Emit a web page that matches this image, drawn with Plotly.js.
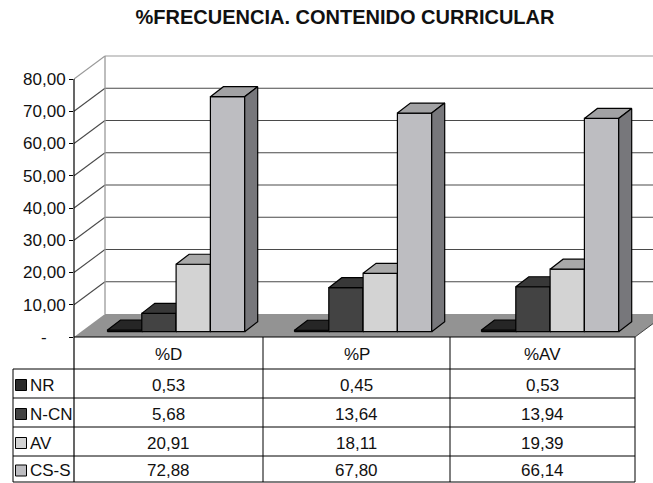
<!DOCTYPE html>
<html>
<head>
<meta charset="utf-8">
<script src="https://cdn.plot.ly/plotly-3.0.1.min.js"></script>
<style>
  html, body { margin: 0; padding: 0; background: #ffffff; }
  #chart { width: 653px; height: 483px; }
</style>
</head>
<body>
<div id="chart"></div>
<script>
// ---- data ----
const categories = ['%D', '%P', '%AV'];
const seriesNames = ['NR', 'N-CN', 'AV', 'CS-S'];
const valuesNR = [0.53, 0.45, 0.53];
const valuesNCN = [5.68, 13.64, 13.94];
const valuesAV = [20.91, 18.11, 19.39];
const valuesCSS = [72.88, 67.80, 66.14];
const yTickVals = [0, 10, 20, 30, 40, 50, 60, 70, 80];
const yTickText = ['-\u00a0\u00a0\u00a0\u00a0', '10,00', '20,00', '30,00', '40,00', '50,00', '60,00', '70,00', '80,00'];

const seriesValues = [valuesNR, valuesNCN, valuesAV, valuesCSS];

// ---- styling ----
const frontColors = ['#2b2b2b', '#434343', '#d3d3d3', '#bdbdc1'];
const topColors   = ['#262626', '#383838', '#a9a9a9', '#a2a2a4'];
const sideColors  = ['#1c1c1c', '#2e2e2e', '#8a8a8a', '#77777b'];
const FONT = 'Liberation Sans, Arial, sans-serif';

// ---- geometry (pixels) ----
const W = 653, H = 483;
const PLOT_L = 74, PLOT_T = 40, PLOT_B = 483;
const CAT_PX = 187;          // width of one category on the front plane
const UNIT_PX = 3.225;       // pixels per value unit
const ZERO_PY = 337;         // front-plane baseline

const dxu = px => px / CAT_PX;
const dyu = px => px / UNIT_PX;
const paperX = px => (px - PLOT_L) / (W - PLOT_L);
const paperY = py => (PLOT_B - py) / (PLOT_B - PLOT_T);

const xMax = (W - PLOT_L) / CAT_PX;
const yMin = (ZERO_PY - PLOT_B) / UNIT_PX;
const yMax = (ZERO_PY - PLOT_T) / UNIT_PX;

// depth of the box (back wall offset) and of the bars
const WALL_DX = dxu(31), WALL_DY = dyu(23);
const BAR_LEFT = dxu(33.5), BAR_W = dxu(34.3), BAR_BASE = dyu(5.3);
const BAR_DX = dxu(13), BAR_DY = dyu(10);
const nCat = categories.length;

// ---- bars: front, top and side faces, drawn series by series ----
const traces = [];
function polyTrace(xs, ys, fill) {
  return {
    type: 'scatter', mode: 'lines', x: xs, y: ys,
    fill: 'toself', fillcolor: fill,
    line: { color: '#000000', width: 1.2 },
    hoverinfo: 'skip', showlegend: false
  };
}
seriesValues.forEach((vals, j) => {
  const fx = [], fy = [], tx = [], ty = [], sx = [], sy = [];
  vals.forEach((v, i) => {
    const L = i + BAR_LEFT + j * BAR_W, R = L + BAR_W;
    const b = BAR_BASE, t = BAR_BASE + v;
    fx.push(L, R, R, L, L, null); fy.push(b, b, t, t, b, null);
    tx.push(L, R, R + BAR_DX, L + BAR_DX, L, null);
    ty.push(t, t, t + BAR_DY, t + BAR_DY, t, null);
    sx.push(R, R + BAR_DX, R + BAR_DX, R, R, null);
    sy.push(b, b + BAR_DY, t + BAR_DY, t, b, null);
  });
  traces.push(polyTrace(fx, fy, frontColors[j]));
  traces.push(polyTrace(tx, ty, topColors[j]));
  traces.push(polyTrace(sx, sy, sideColors[j]));
});

// ---- box frame: back wall grid, side wall grid, floor ----
const shapes = [];
const gridColor = '#4a4a4a', edgeColor = '#9a9a9a';
yTickVals.filter(v => v > 0).forEach(v => {
  const c = v === 80 ? edgeColor : gridColor;
  shapes.push({ type: 'line', xref: 'x', yref: 'y', layer: 'below',
    x0: WALL_DX, y0: v + WALL_DY, x1: nCat + WALL_DX, y1: v + WALL_DY,
    line: { color: c, width: 1.2 } });
  shapes.push({ type: 'line', xref: 'x', yref: 'y', layer: 'below',
    x0: 0, y0: v, x1: WALL_DX, y1: v + WALL_DY,
    line: { color: c, width: 1.1 } });
});
shapes.push({ type: 'line', xref: 'x', yref: 'y', layer: 'below',
  x0: WALL_DX, y0: WALL_DY, x1: WALL_DX, y1: 80 + WALL_DY,
  line: { color: edgeColor, width: 1.3 } });
shapes.push({ type: 'path', xref: 'x', yref: 'y', layer: 'below',
  path: `M0,0 L${nCat},0 L${nCat + WALL_DX},${WALL_DY} L${WALL_DX},${WALL_DY} Z`,
  fillcolor: '#939393', line: { width: 0 } });
shapes.push({ type: 'line', xref: 'x', yref: 'y', layer: 'below',
  x0: nCat, y0: 0, x1: nCat + WALL_DX, y1: WALL_DY,
  line: { color: '#444444', width: 1 } });

// ---- data table under the plot ----
const colX = [74, 263, 450, 635];
const labelLeft = 13;
const rowY = [337, 369, 398, 427, 456, 482];
const tableLine = { color: '#000000', width: 1 };
function pxLine(x0, y0, x1, y1, line) {
  shapes.push({ type: 'line', xref: 'paper', yref: 'paper', layer: 'above',
    x0: paperX(x0), y0: paperY(y0), x1: paperX(x1), y1: paperY(y1), line });
}
// front axis line continuing as the table's inner left border
pxLine(74, ZERO_PY - 80 * UNIT_PX, 74, rowY[rowY.length - 1], { color: '#000000', width: 1.2 });
rowY.forEach((y, k) => pxLine(k === 0 ? colX[0] : labelLeft, y, colX[colX.length - 1], y, tableLine));
pxLine(labelLeft, rowY[1], labelLeft, rowY[rowY.length - 1], tableLine);
colX.slice(1).forEach(x => pxLine(x, rowY[0], x, rowY[rowY.length - 1], tableLine));

const annotations = [];
const textFont = { family: FONT, size: 17, color: '#111111' };
function pxText(text, x, y, anchor) {
  annotations.push({ text, xref: 'paper', yref: 'paper', x: paperX(x), y: paperY(y),
    xanchor: anchor, yanchor: 'middle', showarrow: false, font: textFont });
}
const fmt = v => v.toFixed(2).replace('.', ',');
categories.forEach((c, i) => {
  const cx = (colX[i] + colX[i + 1]) / 2;
  pxText(c, cx, (rowY[0] + rowY[1]) / 2 + 1.5, 'center');
  seriesValues.forEach((vals, j) => {
    pxText(fmt(vals[i]), cx, (rowY[j + 1] + rowY[j + 2]) / 2 + 1.5, 'center');
  });
});
seriesNames.forEach((name, j) => {
  const cy = (rowY[j + 1] + rowY[j + 2]) / 2 + 1.5;
  shapes.push({ type: 'rect', xref: 'paper', yref: 'paper', layer: 'above',
    x0: paperX(15.5), x1: paperX(26.5), y0: paperY(cy + 5.5), y1: paperY(cy - 5.5),
    fillcolor: frontColors[j], line: { color: '#000000', width: 1 } });
  pxText(name, 27.5, cy, 'left');
});

const layout = {
  width: W, height: H, autosize: false,
  margin: { l: PLOT_L, r: 0, t: PLOT_T, b: H - PLOT_B, pad: 0 },
  paper_bgcolor: '#ffffff', plot_bgcolor: 'rgba(0,0,0,0)',
  title: {
    text: '<b>%FRECUENCIA. CONTENIDO CURRICULAR</b>',
    font: { family: FONT, size: 20, color: '#111111' },
    xref: 'container', yref: 'container',
    x: 345 / W, xanchor: 'center', y: 1 - 17 / H, yanchor: 'middle'
  },
  xaxis: { range: [0, xMax], visible: false, fixedrange: true },
  yaxis: {
    range: [yMin, yMax], tickvals: yTickVals, ticktext: yTickText,
    ticks: 'outside', ticklen: 4, tickcolor: '#000000', tickwidth: 1,
    showgrid: false, zeroline: false, showline: false,
    tickfont: { family: FONT, size: 17, color: '#111111' },
    fixedrange: true
  },
  shapes, annotations, showlegend: false
};

Plotly.newPlot('chart', traces, layout, { staticPlot: true, displayModeBar: false });
</script>
</body>
</html>
